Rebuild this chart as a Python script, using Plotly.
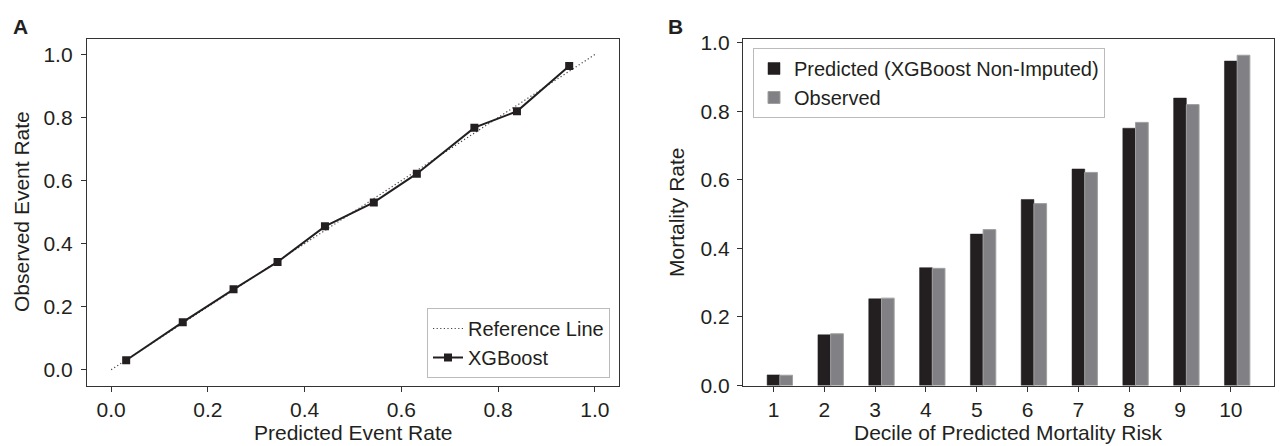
import plotly.graph_objects as go

# ---- data ----
deciles = [1, 2, 3, 4, 5, 6, 7, 8, 9, 10]
predicted = [0.031, 0.148, 0.253, 0.344, 0.442, 0.543, 0.632, 0.751, 0.839, 0.947]
observed = [0.030, 0.151, 0.255, 0.342, 0.455, 0.531, 0.622, 0.768, 0.820, 0.964]
ref_line = [0.0, 1.0]
tick_vals = [0.0, 0.2, 0.4, 0.6, 0.8, 1.0]
tick_text = ["0.0", "0.2", "0.4", "0.6", "0.8", "1.0"]

W, H = 1282, 446
FONT = "Liberation Sans, Arial, Helvetica, sans-serif"
TXT = "#231f20"
FS = 21
LFS = 20

def px_x(p):
    return p / W

def px_y(p):
    return 1 - p / H

fig = go.Figure()

# Panel A
fig.add_trace(go.Scatter(
    x=ref_line, y=ref_line, mode="lines", name="Reference Line",
    line=dict(color="#444444", width=1.2, dash="1.2px,2.4px"),
    xaxis="x", yaxis="y", legend="legend"))
fig.add_trace(go.Scatter(
    x=predicted, y=observed, mode="lines+markers", name="XGBoost",
    line=dict(color=TXT, width=2),
    marker=dict(symbol="square", size=8, color=TXT),
    xaxis="x", yaxis="y", legend="legend"))

# Panel B
fig.add_trace(go.Bar(
    x=deciles, y=predicted, name="Predicted (XGBoost Non-Imputed)",
    width=0.25, offset=-0.125,
    marker=dict(color=TXT, line=dict(color=TXT, width=0.5)),
    xaxis="x2", yaxis="y2", legend="legend2"))
fig.add_trace(go.Bar(
    x=deciles, y=observed, name="Observed",
    width=0.25, offset=0.125,
    marker=dict(color="#808085", line=dict(color="#a0a0a0", width=1)),
    xaxis="x2", yaxis="y2", legend="legend2"))

axis_common = dict(
    showline=True, mirror=True, linecolor="#333333", linewidth=1.3,
    ticks="outside", ticklen=5, tickwidth=1.2, tickcolor="#333333",
    showgrid=False, zeroline=False, automargin=False,
    tickfont=dict(family=FONT, size=FS, color=TXT),
)

ydom = [px_y(385.5), px_y(38.8)]

fig.update_layout(
    width=W, height=H, autosize=False,
    margin=dict(l=0, r=0, t=0, b=0, pad=0),
    paper_bgcolor="white", plot_bgcolor="white",
    font=dict(family=FONT, size=FS, color=TXT),
    barmode="overlay",
    xaxis=dict(domain=[px_x(87), px_x(619)], range=[-0.05, 1.05],
               tickvals=tick_vals, ticktext=tick_text, anchor="y", **axis_common),
    yaxis=dict(domain=ydom, range=[-0.05, 1.05], ticklabelstandoff=4,
               tickvals=tick_vals, ticktext=tick_text, anchor="x", **axis_common),
    xaxis2=dict(domain=[px_x(743), px_x(1274)], range=[0.4, 10.85],
                tickvals=deciles, ticktext=[str(d) for d in deciles], anchor="y2", **axis_common),
    yaxis2=dict(domain=ydom, range=[0, 1.012], ticklabelstandoff=3,
                tickvals=tick_vals, ticktext=tick_text, anchor="x2", **axis_common),
    legend=dict(x=px_x(610), y=px_y(378), xanchor="right", yanchor="bottom",
                bgcolor="white", bordercolor="#bbbbbb", borderwidth=1,
                font=dict(family=FONT, size=LFS, color=TXT), itemwidth=30,
                tracegroupgap=0),
    legend2=dict(x=px_x(753), y=px_y(48), xanchor="left", yanchor="top",
                 bgcolor="white", bordercolor="#bbbbbb", borderwidth=1,
                 font=dict(family=FONT, size=LFS, color=TXT), itemwidth=30,
                 tracegroupgap=0),
    showlegend=True,
)

annos = [
    dict(text="<b>A</b>", x=px_x(20), y=px_y(27)),
    dict(text="<b>B</b>", x=px_x(676), y=px_y(27)),
    dict(text="Predicted Event Rate", x=px_x(353), y=px_y(432)),
    dict(text="Decile of Predicted Mortality Risk", x=px_x(1008), y=px_y(432)),
    dict(text="Observed Event Rate", x=px_x(21), y=px_y(212), textangle=-90),
    dict(text="Mortality Rate", x=px_x(676), y=px_y(212), textangle=-90),
]
for a in annos:
    fig.add_annotation(xref="paper", yref="paper", showarrow=False,
                       xanchor="center", yanchor="middle",
                       font=dict(family=FONT, size=FS, color=TXT), **a)

fig.write_html("out.html", config={"displayModeBar": False},
               post_script="document.body.style.margin='0';document.body.style.overflow='hidden';")
